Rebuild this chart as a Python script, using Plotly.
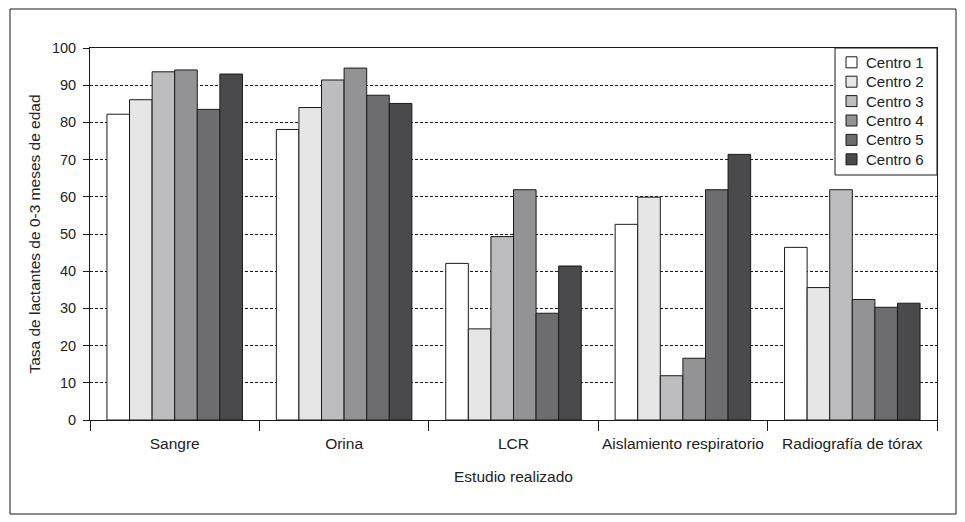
import plotly.graph_objects as go

categories = ["Sangre", "Orina", "LCR", "Aislamiento respiratorio", "Radiografía de tórax"]
series_names = ["Centro 1", "Centro 2", "Centro 3", "Centro 4", "Centro 5", "Centro 6"]
centro1 = [82.2, 78.1, 42.1, 52.6, 46.4]
centro2 = [86.1, 84.0, 24.5, 59.9, 35.6]
centro3 = [93.6, 91.4, 49.3, 11.9, 61.9]
centro4 = [94.1, 94.6, 61.9, 16.6, 32.4]
centro5 = [83.5, 87.3, 28.7, 61.9, 30.3]
centro6 = [93.0, 85.1, 41.4, 71.4, 31.4]
series_values = [centro1, centro2, centro3, centro4, centro5, centro6]
colors = ["#ffffff", "#e6e6e7", "#bdbdc0", "#939396", "#6d6d70", "#4a4a4c"]
y_ticks = [0, 10, 20, 30, 40, 50, 60, 70, 80, 90, 100]

# page body has an 8px margin, so work in figure coordinates = screen - 8
OFF = 8
W, H = 965 - OFF, 522 - OFF
L, R, T, B = 90 - OFF, 937 - OFF, 48 - OFF, 420 - OFF


def px(x):
    return (x - OFF - L) / (R - L)


def py(y):
    return (B - (y - OFF)) / (B - T)


fam = "Liberation Sans, Arial, sans-serif"
ink = "#1a1a1a"
txt = "#222222"

fig = go.Figure()
for name, vals, col in zip(series_names, series_values, colors):
    fig.add_trace(go.Bar(x=categories, y=vals, name=name, showlegend=False,
                         marker=dict(color=col, line=dict(color=ink, width=1))))

# custom legend box (compact spacing like the reference)
shapes = [
    dict(type="rect", xref="paper", yref="paper",
         x0=px(10), x1=px(956), y0=py(514), y1=py(9),
         line=dict(color=ink, width=1), fillcolor="rgba(0,0,0,0)", layer="below"),
    dict(type="rect", xref="paper", yref="paper",
         x0=px(835), x1=px(937), y0=py(175), y1=py(48),
         line=dict(color=ink, width=1), fillcolor="white", layer="above"),
]
annotations = []
leg_top, pitch, sq = 62.3, 19.4, 11
for i, (name, col) in enumerate(zip(series_names, colors)):
    cy = leg_top + i * pitch
    shapes.append(dict(type="rect", xref="paper", yref="paper",
                       x0=px(846), x1=px(846 + sq), y0=py(cy + sq / 2), y1=py(cy - sq / 2),
                       line=dict(color=ink, width=1), fillcolor=col, layer="above"))
    annotations.append(dict(xref="paper", yref="paper", x=px(864), y=py(cy),
                            xanchor="left", yanchor="middle", showarrow=False,
                            text=name, font=dict(family=fam, size=15, color=txt)))

fig.update_layout(
    width=W, height=H,
    margin=dict(l=L, r=W - R, t=T, b=H - B),
    paper_bgcolor="white", plot_bgcolor="white",
    barmode="group", bargap=0.2, bargroupgap=0,
    font=dict(family=fam, size=14, color=txt),
    showlegend=False,
    xaxis=dict(title=dict(text="Estudio realizado", standoff=20, font=dict(size=15.5)),
               tickfont=dict(size=15.5), tickangle=0, automargin=False,
               showline=True, linecolor=ink, linewidth=1, mirror=True,
               ticks="outside", ticklen=10, tickcolor=ink, tickson="boundaries",
               ticklabelstandoff=9,
               showgrid=False),
    yaxis=dict(title=dict(text="Tasa de lactantes de 0-3 meses de edad", standoff=7,
                          font=dict(size=15.5)),
               tickfont=dict(size=14.5), automargin=False,
               range=[0, 100], tickvals=y_ticks,
               showline=True, linecolor=ink, linewidth=1, mirror=True,
               ticks="outside", ticklen=6, tickcolor=ink,
               ticklabelstandoff=4,
               showgrid=True, gridcolor=ink, griddash="3px,2px", gridwidth=1,
               zeroline=False),
    shapes=shapes,
    annotations=annotations,
)
fig.write_html("out.html")
